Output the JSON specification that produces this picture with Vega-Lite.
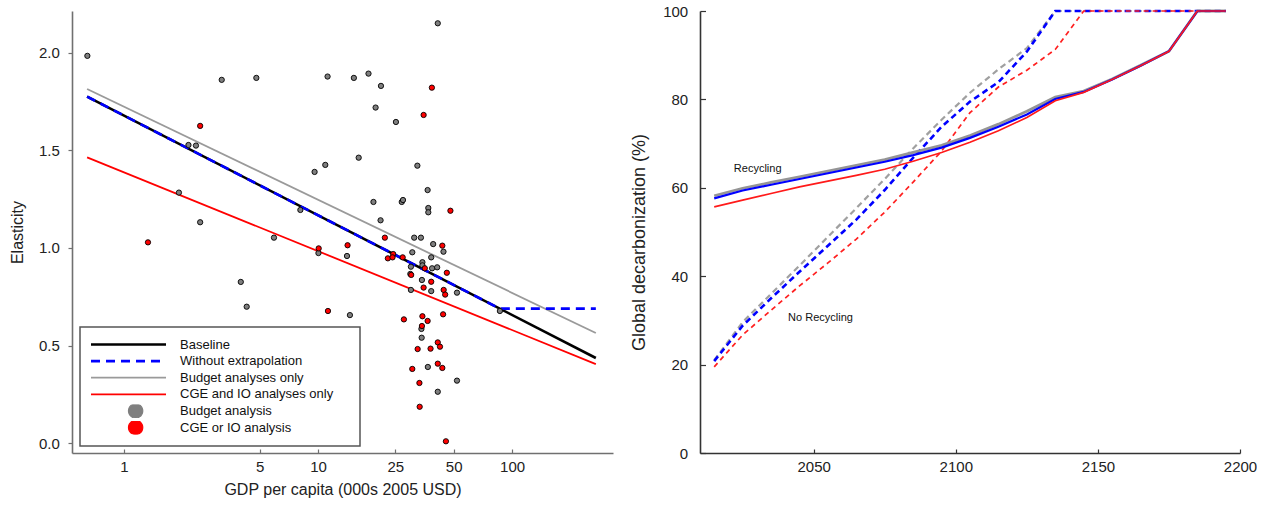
{
  "$schema": "https://vega.github.io/schema/vega-lite/v6.json",
  "padding": {"left": 9, "top": 4, "right": 0, "bottom": 0},
  "spacing": 17,
  "config": {
    "font": "Liberation Sans",
    "view": {"stroke": null},
    "axis": {"grid": false, "labelFontSize": 15, "labelColor": "#222", "titleColor": "#222", "titleFontWeight": "normal", "labelFlush": false, "labelOverlap": false}
  },
  "resolve": {"scale": {"color": "independent"}},
  "datasets": {
    "fits": [
      {"series": "Budget analyses only", "gdp": 0.646, "el": 1.815},
      {"series": "Budget analyses only", "gdp": 270, "el": 0.564},
      {"series": "CGE and IO analyses only", "gdp": 0.646, "el": 1.465},
      {"series": "CGE and IO analyses only", "gdp": 270, "el": 0.405},
      {"series": "Baseline", "gdp": 0.646, "el": 1.776},
      {"series": "Baseline", "gdp": 270, "el": 0.436},
      {"series": "Without extrapolation", "gdp": 0.646, "el": 1.776},
      {"series": "Without extrapolation", "gdp": 86.5, "el": 0.689},
      {"series": "Without extrapolation", "gdp": 270, "el": 0.689}
    ],
    "pts": [
      {"gdp": 0.648, "el": 1.985, "type": "Budget analysis"},
      {"gdp": 3.19, "el": 1.862, "type": "Budget analysis"},
      {"gdp": 4.81, "el": 1.872, "type": "Budget analysis"},
      {"gdp": 11.2, "el": 1.879, "type": "Budget analysis"},
      {"gdp": 2.15, "el": 1.528, "type": "Budget analysis"},
      {"gdp": 2.35, "el": 1.525, "type": "Budget analysis"},
      {"gdp": 9.6, "el": 1.39, "type": "Budget analysis"},
      {"gdp": 10.9, "el": 1.426, "type": "Budget analysis"},
      {"gdp": 1.92, "el": 1.284, "type": "Budget analysis"},
      {"gdp": 2.47, "el": 1.132, "type": "Budget analysis"},
      {"gdp": 8.11, "el": 1.195, "type": "Budget analysis"},
      {"gdp": 5.93, "el": 1.053, "type": "Budget analysis"},
      {"gdp": 10.05, "el": 0.974, "type": "Budget analysis"},
      {"gdp": 14.1, "el": 0.959, "type": "Budget analysis"},
      {"gdp": 4.0, "el": 0.826, "type": "Budget analysis"},
      {"gdp": 4.29, "el": 0.699, "type": "Budget analysis"},
      {"gdp": 14.6, "el": 0.656, "type": "Budget analysis"},
      {"gdp": 41.4, "el": 2.152, "type": "Budget analysis"},
      {"gdp": 15.3, "el": 1.872, "type": "Budget analysis"},
      {"gdp": 18.2, "el": 1.894, "type": "Budget analysis"},
      {"gdp": 21.1, "el": 1.831, "type": "Budget analysis"},
      {"gdp": 19.8, "el": 1.72, "type": "Budget analysis"},
      {"gdp": 25.2, "el": 1.646, "type": "Budget analysis"},
      {"gdp": 16.2, "el": 1.463, "type": "Budget analysis"},
      {"gdp": 32.5, "el": 1.422, "type": "Budget analysis"},
      {"gdp": 36.7, "el": 1.297, "type": "Budget analysis"},
      {"gdp": 19.3, "el": 1.236, "type": "Budget analysis"},
      {"gdp": 27.0, "el": 1.236, "type": "Budget analysis"},
      {"gdp": 27.4, "el": 1.246, "type": "Budget analysis"},
      {"gdp": 37.0, "el": 1.205, "type": "Budget analysis"},
      {"gdp": 37.0, "el": 1.183, "type": "Budget analysis"},
      {"gdp": 21.0, "el": 1.142, "type": "Budget analysis"},
      {"gdp": 31.3, "el": 1.053, "type": "Budget analysis"},
      {"gdp": 33.9, "el": 1.053, "type": "Budget analysis"},
      {"gdp": 39.2, "el": 1.02, "type": "Budget analysis"},
      {"gdp": 44.3, "el": 0.981, "type": "Budget analysis"},
      {"gdp": 30.6, "el": 0.978, "type": "Budget analysis"},
      {"gdp": 38.3, "el": 0.952, "type": "Budget analysis"},
      {"gdp": 30.1, "el": 0.904, "type": "Budget analysis"},
      {"gdp": 34.5, "el": 0.927, "type": "Budget analysis"},
      {"gdp": 34.5, "el": 0.911, "type": "Budget analysis"},
      {"gdp": 38.7, "el": 0.896, "type": "Budget analysis"},
      {"gdp": 41.1, "el": 0.901, "type": "Budget analysis"},
      {"gdp": 29.9, "el": 0.867, "type": "Budget analysis"},
      {"gdp": 34.3, "el": 0.836, "type": "Budget analysis"},
      {"gdp": 38.3, "el": 0.779, "type": "Budget analysis"},
      {"gdp": 30.1, "el": 0.785, "type": "Budget analysis"},
      {"gdp": 52.0, "el": 0.771, "type": "Budget analysis"},
      {"gdp": 34.1, "el": 0.585, "type": "Budget analysis"},
      {"gdp": 34.2, "el": 0.54, "type": "Budget analysis"},
      {"gdp": 36.8, "el": 0.39, "type": "Budget analysis"},
      {"gdp": 52.0, "el": 0.32, "type": "Budget analysis"},
      {"gdp": 41.4, "el": 0.263, "type": "Budget analysis"},
      {"gdp": 86.5, "el": 0.677, "type": "Budget analysis"},
      {"gdp": 2.47, "el": 1.626, "type": "CGE or IO analysis"},
      {"gdp": 1.33, "el": 1.029, "type": "CGE or IO analysis"},
      {"gdp": 10.08, "el": 0.998, "type": "CGE or IO analysis"},
      {"gdp": 14.2, "el": 1.014, "type": "CGE or IO analysis"},
      {"gdp": 11.25, "el": 0.677, "type": "CGE or IO analysis"},
      {"gdp": 38.6, "el": 1.822, "type": "CGE or IO analysis"},
      {"gdp": 35.0, "el": 1.682, "type": "CGE or IO analysis"},
      {"gdp": 48.1, "el": 1.191, "type": "CGE or IO analysis"},
      {"gdp": 22.1, "el": 1.053, "type": "CGE or IO analysis"},
      {"gdp": 43.7, "el": 1.012, "type": "CGE or IO analysis"},
      {"gdp": 24.4, "el": 0.969, "type": "CGE or IO analysis"},
      {"gdp": 22.9, "el": 0.947, "type": "CGE or IO analysis"},
      {"gdp": 24.2, "el": 0.952, "type": "CGE or IO analysis"},
      {"gdp": 27.3, "el": 0.952, "type": "CGE or IO analysis"},
      {"gdp": 35.5, "el": 0.896, "type": "CGE or IO analysis"},
      {"gdp": 30.2, "el": 0.862, "type": "CGE or IO analysis"},
      {"gdp": 46.1, "el": 0.873, "type": "CGE or IO analysis"},
      {"gdp": 38.3, "el": 0.827, "type": "CGE or IO analysis"},
      {"gdp": 35.0, "el": 0.797, "type": "CGE or IO analysis"},
      {"gdp": 44.4, "el": 0.785, "type": "CGE or IO analysis"},
      {"gdp": 45.2, "el": 0.761, "type": "CGE or IO analysis"},
      {"gdp": 44.1, "el": 0.66, "type": "CGE or IO analysis"},
      {"gdp": 27.7, "el": 0.634, "type": "CGE or IO analysis"},
      {"gdp": 34.5, "el": 0.65, "type": "CGE or IO analysis"},
      {"gdp": 36.7, "el": 0.626, "type": "CGE or IO analysis"},
      {"gdp": 34.3, "el": 0.6, "type": "CGE or IO analysis"},
      {"gdp": 41.4, "el": 0.516, "type": "CGE or IO analysis"},
      {"gdp": 42.5, "el": 0.494, "type": "CGE or IO analysis"},
      {"gdp": 32.6, "el": 0.482, "type": "CGE or IO analysis"},
      {"gdp": 38.0, "el": 0.484, "type": "CGE or IO analysis"},
      {"gdp": 41.4, "el": 0.407, "type": "CGE or IO analysis"},
      {"gdp": 43.7, "el": 0.385, "type": "CGE or IO analysis"},
      {"gdp": 30.6, "el": 0.38, "type": "CGE or IO analysis"},
      {"gdp": 33.3, "el": 0.308, "type": "CGE or IO analysis"},
      {"gdp": 33.4, "el": 0.186, "type": "CGE or IO analysis"},
      {"gdp": 45.6, "el": 0.009, "type": "CGE or IO analysis"}
    ],
    "decarb": [
      {"scenario": "Recycling", "model": "Budget", "year": 2015, "v": 58.2},
      {"scenario": "Recycling", "model": "Budget", "year": 2025, "v": 59.9},
      {"scenario": "Recycling", "model": "Budget", "year": 2035, "v": 61.2},
      {"scenario": "Recycling", "model": "Budget", "year": 2045, "v": 62.5},
      {"scenario": "Recycling", "model": "Budget", "year": 2055, "v": 63.8},
      {"scenario": "Recycling", "model": "Budget", "year": 2065, "v": 65.1},
      {"scenario": "Recycling", "model": "Budget", "year": 2075, "v": 66.4},
      {"scenario": "Recycling", "model": "Budget", "year": 2085, "v": 68.0},
      {"scenario": "Recycling", "model": "Budget", "year": 2095, "v": 69.6},
      {"scenario": "Recycling", "model": "Budget", "year": 2105, "v": 71.8},
      {"scenario": "Recycling", "model": "Budget", "year": 2115, "v": 74.4},
      {"scenario": "Recycling", "model": "Budget", "year": 2125, "v": 77.3},
      {"scenario": "Recycling", "model": "Budget", "year": 2135, "v": 80.5},
      {"scenario": "Recycling", "model": "Budget", "year": 2145, "v": 81.9},
      {"scenario": "Recycling", "model": "Budget", "year": 2155, "v": 84.6},
      {"scenario": "Recycling", "model": "Budget", "year": 2165, "v": 87.7},
      {"scenario": "Recycling", "model": "Budget", "year": 2175, "v": 90.9},
      {"scenario": "Recycling", "model": "Budget", "year": 2185, "v": 100},
      {"scenario": "Recycling", "model": "Budget", "year": 2195, "v": 100},
      {"scenario": "Recycling", "model": "Baseline", "year": 2015, "v": 57.6},
      {"scenario": "Recycling", "model": "Baseline", "year": 2025, "v": 59.4},
      {"scenario": "Recycling", "model": "Baseline", "year": 2035, "v": 60.7},
      {"scenario": "Recycling", "model": "Baseline", "year": 2045, "v": 62.0},
      {"scenario": "Recycling", "model": "Baseline", "year": 2055, "v": 63.3},
      {"scenario": "Recycling", "model": "Baseline", "year": 2065, "v": 64.6},
      {"scenario": "Recycling", "model": "Baseline", "year": 2075, "v": 65.9},
      {"scenario": "Recycling", "model": "Baseline", "year": 2085, "v": 67.4},
      {"scenario": "Recycling", "model": "Baseline", "year": 2095, "v": 69.1},
      {"scenario": "Recycling", "model": "Baseline", "year": 2105, "v": 71.3},
      {"scenario": "Recycling", "model": "Baseline", "year": 2115, "v": 73.8},
      {"scenario": "Recycling", "model": "Baseline", "year": 2125, "v": 76.6},
      {"scenario": "Recycling", "model": "Baseline", "year": 2135, "v": 80.1},
      {"scenario": "Recycling", "model": "Baseline", "year": 2145, "v": 81.7},
      {"scenario": "Recycling", "model": "Baseline", "year": 2155, "v": 84.5},
      {"scenario": "Recycling", "model": "Baseline", "year": 2165, "v": 87.6},
      {"scenario": "Recycling", "model": "Baseline", "year": 2175, "v": 90.9},
      {"scenario": "Recycling", "model": "Baseline", "year": 2185, "v": 100},
      {"scenario": "Recycling", "model": "Baseline", "year": 2195, "v": 100},
      {"scenario": "Recycling", "model": "CGE", "year": 2015, "v": 55.7},
      {"scenario": "Recycling", "model": "CGE", "year": 2025, "v": 57.2},
      {"scenario": "Recycling", "model": "CGE", "year": 2035, "v": 58.7},
      {"scenario": "Recycling", "model": "CGE", "year": 2045, "v": 60.2},
      {"scenario": "Recycling", "model": "CGE", "year": 2055, "v": 61.5},
      {"scenario": "Recycling", "model": "CGE", "year": 2065, "v": 62.8},
      {"scenario": "Recycling", "model": "CGE", "year": 2075, "v": 64.2},
      {"scenario": "Recycling", "model": "CGE", "year": 2085, "v": 66.0},
      {"scenario": "Recycling", "model": "CGE", "year": 2095, "v": 68.0},
      {"scenario": "Recycling", "model": "CGE", "year": 2105, "v": 70.3},
      {"scenario": "Recycling", "model": "CGE", "year": 2115, "v": 72.9},
      {"scenario": "Recycling", "model": "CGE", "year": 2125, "v": 75.9},
      {"scenario": "Recycling", "model": "CGE", "year": 2135, "v": 79.7},
      {"scenario": "Recycling", "model": "CGE", "year": 2145, "v": 81.6},
      {"scenario": "Recycling", "model": "CGE", "year": 2155, "v": 84.5},
      {"scenario": "Recycling", "model": "CGE", "year": 2165, "v": 87.6},
      {"scenario": "Recycling", "model": "CGE", "year": 2175, "v": 90.9},
      {"scenario": "Recycling", "model": "CGE", "year": 2185, "v": 100},
      {"scenario": "Recycling", "model": "CGE", "year": 2195, "v": 100},
      {"scenario": "No Recycling", "model": "Budget", "year": 2015, "v": 21.0},
      {"scenario": "No Recycling", "model": "Budget", "year": 2025, "v": 29.6},
      {"scenario": "No Recycling", "model": "Budget", "year": 2035, "v": 36.0},
      {"scenario": "No Recycling", "model": "Budget", "year": 2045, "v": 42.4},
      {"scenario": "No Recycling", "model": "Budget", "year": 2055, "v": 48.9},
      {"scenario": "No Recycling", "model": "Budget", "year": 2065, "v": 55.4},
      {"scenario": "No Recycling", "model": "Budget", "year": 2075, "v": 62.0},
      {"scenario": "No Recycling", "model": "Budget", "year": 2085, "v": 68.9},
      {"scenario": "No Recycling", "model": "Budget", "year": 2095, "v": 75.4},
      {"scenario": "No Recycling", "model": "Budget", "year": 2105, "v": 81.5},
      {"scenario": "No Recycling", "model": "Budget", "year": 2115, "v": 86.8},
      {"scenario": "No Recycling", "model": "Budget", "year": 2125, "v": 91.6},
      {"scenario": "No Recycling", "model": "Budget", "year": 2135, "v": 100},
      {"scenario": "No Recycling", "model": "Budget", "year": 2145, "v": 100},
      {"scenario": "No Recycling", "model": "Budget", "year": 2155, "v": 100},
      {"scenario": "No Recycling", "model": "Budget", "year": 2165, "v": 100},
      {"scenario": "No Recycling", "model": "Budget", "year": 2175, "v": 100},
      {"scenario": "No Recycling", "model": "Budget", "year": 2185, "v": 100},
      {"scenario": "No Recycling", "model": "Budget", "year": 2195, "v": 100},
      {"scenario": "No Recycling", "model": "Baseline", "year": 2015, "v": 20.8},
      {"scenario": "No Recycling", "model": "Baseline", "year": 2025, "v": 28.8},
      {"scenario": "No Recycling", "model": "Baseline", "year": 2035, "v": 35.0},
      {"scenario": "No Recycling", "model": "Baseline", "year": 2045, "v": 41.0},
      {"scenario": "No Recycling", "model": "Baseline", "year": 2055, "v": 46.9},
      {"scenario": "No Recycling", "model": "Baseline", "year": 2065, "v": 52.8},
      {"scenario": "No Recycling", "model": "Baseline", "year": 2075, "v": 59.5},
      {"scenario": "No Recycling", "model": "Baseline", "year": 2085, "v": 66.8},
      {"scenario": "No Recycling", "model": "Baseline", "year": 2095, "v": 73.8},
      {"scenario": "No Recycling", "model": "Baseline", "year": 2105, "v": 79.5},
      {"scenario": "No Recycling", "model": "Baseline", "year": 2115, "v": 83.9},
      {"scenario": "No Recycling", "model": "Baseline", "year": 2125, "v": 90.8},
      {"scenario": "No Recycling", "model": "Baseline", "year": 2135, "v": 100},
      {"scenario": "No Recycling", "model": "Baseline", "year": 2145, "v": 100},
      {"scenario": "No Recycling", "model": "Baseline", "year": 2155, "v": 100},
      {"scenario": "No Recycling", "model": "Baseline", "year": 2165, "v": 100},
      {"scenario": "No Recycling", "model": "Baseline", "year": 2175, "v": 100},
      {"scenario": "No Recycling", "model": "Baseline", "year": 2185, "v": 100},
      {"scenario": "No Recycling", "model": "Baseline", "year": 2195, "v": 100},
      {"scenario": "No Recycling", "model": "CGE", "year": 2015, "v": 19.5},
      {"scenario": "No Recycling", "model": "CGE", "year": 2025, "v": 26.7},
      {"scenario": "No Recycling", "model": "CGE", "year": 2035, "v": 32.3},
      {"scenario": "No Recycling", "model": "CGE", "year": 2045, "v": 37.8},
      {"scenario": "No Recycling", "model": "CGE", "year": 2055, "v": 43.0},
      {"scenario": "No Recycling", "model": "CGE", "year": 2065, "v": 48.4},
      {"scenario": "No Recycling", "model": "CGE", "year": 2075, "v": 54.5},
      {"scenario": "No Recycling", "model": "CGE", "year": 2085, "v": 61.3},
      {"scenario": "No Recycling", "model": "CGE", "year": 2095, "v": 68.3},
      {"scenario": "No Recycling", "model": "CGE", "year": 2105, "v": 77.0},
      {"scenario": "No Recycling", "model": "CGE", "year": 2115, "v": 82.8},
      {"scenario": "No Recycling", "model": "CGE", "year": 2125, "v": 86.6},
      {"scenario": "No Recycling", "model": "CGE", "year": 2135, "v": 91.3},
      {"scenario": "No Recycling", "model": "CGE", "year": 2145, "v": 100},
      {"scenario": "No Recycling", "model": "CGE", "year": 2155, "v": 100},
      {"scenario": "No Recycling", "model": "CGE", "year": 2165, "v": 100},
      {"scenario": "No Recycling", "model": "CGE", "year": 2175, "v": 100},
      {"scenario": "No Recycling", "model": "CGE", "year": 2185, "v": 100},
      {"scenario": "No Recycling", "model": "CGE", "year": 2195, "v": 100}
    ],
    "notes": [
      {"label": "Recycling", "year": 2030.3, "v": 64.3},
      {"label": "No Recycling", "year": 2052.4, "v": 30.5}
    ]
  },
  "hconcat": [
    {
      "width": 541,
      "height": 442,
      "layer": [
        {
          "data": {"name": "fits"},
          "transform": [{"filter": "datum.series == 'Budget analyses only' || datum.series == 'CGE and IO analyses only'"}],
          "mark": {"type": "line", "strokeWidth": 1.8},
          "encoding": {
            "x": {"field": "gdp", "type": "quantitative",
              "scale": {"type": "log", "domain": [0.54, 331], "nice": false},
              "axis": {"values": [1, 5, 10, 25, 50, 100], "format": "d", "title": "GDP per capita (000s 2005 USD)", "titleFontSize": 16, "titlePadding": 7, "tickSize": -4, "labelPadding": 10.5, "domainColor": "#707070", "domainWidth": 1.6, "tickColor": "#707070", "tickWidth": 1.2}},
            "y": {"field": "el", "type": "quantitative",
              "scale": {"domain": [-0.051, 2.215], "nice": false, "zero": false},
              "axis": {"values": [0, 0.5, 1, 1.5, 2], "format": ".1f", "title": "Elasticity", "titleFontSize": 16, "titleX": -54.5, "titleBaseline": "middle", "tickSize": 4, "labelPadding": 8.7, "domainColor": "#707070", "domainWidth": 1.6, "tickColor": "#707070", "tickWidth": 1.2}},
            "color": {"field": "series", "type": "nominal",
              "scale": {"domain": ["Baseline", "Without extrapolation", "Budget analyses only", "CGE and IO analyses only", "Budget analysis", "CGE or IO analysis"],
                        "range": ["#000000", "#0000ff", "#9a9a9a", "#ff0000", "#7f7f7f", "#ff0000"]},
              "legend": {
                "orient": "none", "legendX": 8, "legendY": 316, "direction": "vertical",
                "title": " ", "titleOrient": "right", "titleFontSize": 1, "titlePadding": 16,
                "strokeColor": "#555555", "fillColor": "white", "padding": 11,
                "labelFont": "Liberation Sans", "labelFontSize": 13, "labelColor": "#111111",
                "symbolType": "stroke", "symbolSize": 5625, "symbolStrokeWidth": 2,
                "clipHeight": 13, "rowPadding": 2.6, "labelOffset": 45, "symbolOffset": 31,
                "encode": {
                  "legend": {"update": {"strokeWidth": {"value": 1.5}}},
                  "symbols": {
                    "update": {
                      "shape": {"signal": "(datum.value == 'Budget analysis' || datum.value == 'CGE or IO analysis') ? 'M0.38,0C0.38,0.105 0.295,0.19 0.19,0.19C0.085,0.19 0,0.105 0,0C0,-0.105 0.085,-0.19 0.19,-0.19C0.295,-0.19 0.38,-0.105 0.38,0Z' : 'stroke'"},
                      "fill": {"signal": "datum.value == 'Budget analysis' ? '#7f7f7f' : (datum.value == 'CGE or IO analysis' ? '#ff0000' : 'transparent')"},
                      "stroke": {"signal": "(datum.value == 'Budget analysis' || datum.value == 'CGE or IO analysis' || datum.value == 'Baseline') ? '#000000' : (datum.value == 'Without extrapolation' ? '#0000ff' : (datum.value == 'Budget analyses only' ? '#9a9a9a' : '#ff0000'))"},
                      "strokeWidth": {"signal": "(datum.value == 'Budget analysis' || datum.value == 'CGE or IO analysis') ? 1.2 : ((datum.value == 'Baseline' || datum.value == 'Without extrapolation') ? 2.6 : 1.8)"},
                      "strokeDash": {"signal": "datum.value == 'Without extrapolation' ? [9, 6] : [1, 0]"},
                      "opacity": {"value": 1}
                    }
                  }
                }
              }
            }
          }
        },
        {
          "data": {"name": "fits"},
          "transform": [{"filter": "datum.series == 'Baseline'"}],
          "mark": {"type": "line", "strokeWidth": 2.6},
          "encoding": {
            "x": {"field": "gdp", "type": "quantitative"},
            "y": {"field": "el", "type": "quantitative"},
            "color": {"field": "series", "type": "nominal"}
          }
        },
        {
          "data": {"name": "fits"},
          "transform": [{"filter": "datum.series == 'Without extrapolation'"}],
          "mark": {"type": "line", "strokeWidth": 2.6, "strokeDash": [9, 6]},
          "encoding": {
            "x": {"field": "gdp", "type": "quantitative"},
            "y": {"field": "el", "type": "quantitative"},
            "color": {"field": "series", "type": "nominal"}
          }
        },
        {
          "data": {"name": "pts"},
          "mark": {"type": "point", "filled": true, "size": 28, "stroke": "#000000", "strokeWidth": 0.9, "opacity": 1},
          "encoding": {
            "x": {"field": "gdp", "type": "quantitative"},
            "y": {"field": "el", "type": "quantitative"},
            "color": {"field": "type", "type": "nominal"}
          }
        }
      ]
    },
    {
      "width": 540,
      "height": 442,
      "data": {"name": "decarb"},
      "encoding": {
        "x": {"field": "year", "type": "quantitative",
          "scale": {"domain": [2010, 2200], "nice": false, "zero": false},
          "axis": {"values": [2050, 2100, 2150, 2200], "format": "d", "title": null, "tickSize": -4, "labelPadding": 10.5, "domainColor": "#333333", "domainWidth": 1.6, "tickColor": "#333333", "tickWidth": 1.2}},
        "y": {"field": "v", "type": "quantitative",
          "scale": {"domain": [0, 100], "nice": false},
          "axis": {"values": [0, 20, 40, 60, 80, 100], "title": "Global decarbonization (%)", "titleFontSize": 18, "titleX": -61, "titleY": 231, "titleBaseline": "middle", "tickSize": -5.5, "labelPadding": 17.8, "domainColor": "#333333", "domainWidth": 1.6, "tickColor": "#333333", "tickWidth": 1.2}}
      },
      "layer": [
        {"transform": [{"filter": "datum.scenario == 'No Recycling' && datum.model == 'Budget'"}],
         "mark": {"type": "line", "color": "#a0a0a0", "strokeWidth": 2.2, "strokeDash": [6, 4]}},
        {"transform": [{"filter": "datum.scenario == 'No Recycling' && datum.model == 'Baseline'"}],
         "mark": {"type": "line", "color": "#0000ff", "strokeWidth": 2.6, "strokeDash": [6, 4]}},
        {"transform": [{"filter": "datum.scenario == 'No Recycling' && datum.model == 'CGE'"}],
         "mark": {"type": "line", "color": "#ff2020", "strokeWidth": 1.7, "strokeDash": [5, 4]}},
        {"transform": [{"filter": "datum.scenario == 'Recycling' && datum.model == 'Budget'"}],
         "mark": {"type": "line", "color": "#959595", "strokeWidth": 2.8}},
        {"transform": [{"filter": "datum.scenario == 'Recycling' && datum.model == 'Baseline'"}],
         "mark": {"type": "line", "color": "#0000ff", "strokeWidth": 2.2}},
        {"transform": [{"filter": "datum.scenario == 'Recycling' && datum.model == 'CGE'"}],
         "mark": {"type": "line", "color": "#ff1a1a", "strokeWidth": 1.7}},
        {"data": {"name": "notes"},
         "mark": {"type": "text", "fontSize": 11, "color": "#111111", "font": "Liberation Sans"},
         "encoding": {"text": {"field": "label", "type": "nominal"}}}
      ]
    }
  ]
}
